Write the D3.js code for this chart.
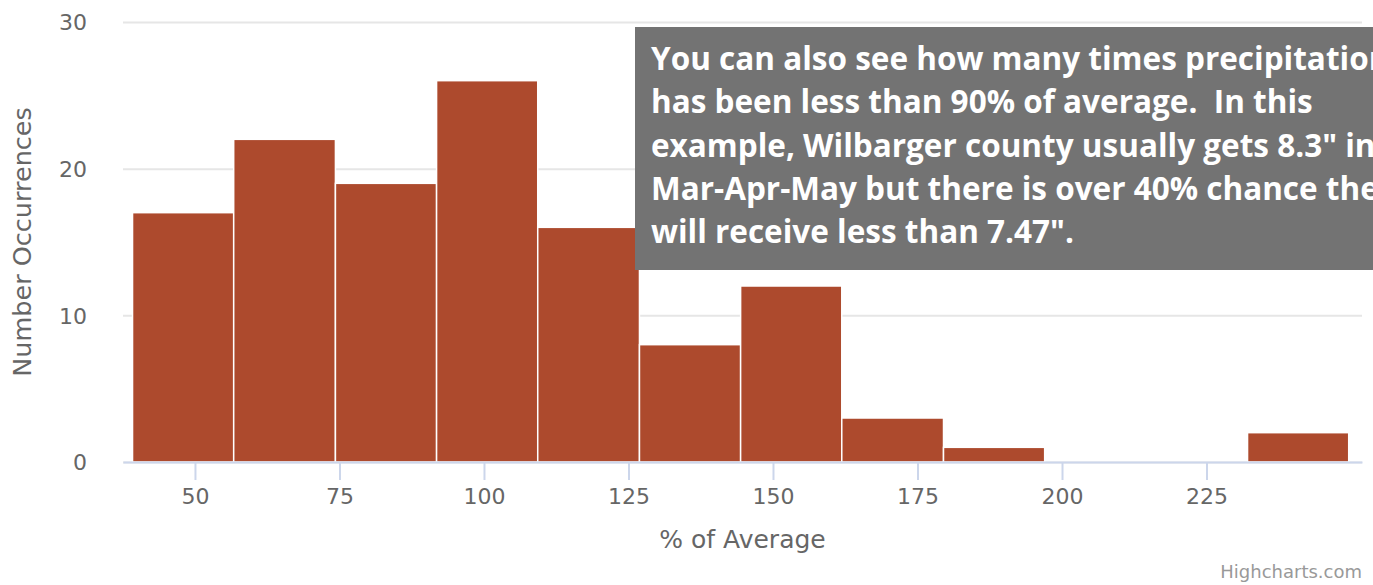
<!DOCTYPE html>
<html>
<head>
<meta charset="utf-8">
<script src="https://cdn.jsdelivr.net/npm/d3@7"></script>
<style>
  html, body { margin: 0; padding: 0; background: #fff; overflow: hidden; }
  svg { display: block; }
</style>
</head>
<body>
<svg id="chart" width="1373" height="585"></svg>
<script>
// ---- data ----
const binEdges = [39.2, 56.7, 74.3, 91.8, 109.3, 126.9, 144.4, 161.9, 179.5, 197.0, 214.5, 232.1, 249.6];
const counts   = [17, 22, 19, 26, 16, 8, 12, 3, 1, 0, 0, 2];
const xTicks   = [50, 75, 100, 125, 150, 175, 200, 225];
const yTicks   = [0, 10, 20, 30];
const xTitle   = "% of Average";
const yTitle   = "Number Occurrences";
const noteLines = [
  "You can also see how many times precipitation",
  "has been less than 90% of average.  In this",
  "example, Wilbarger county usually gets 8.3\" in",
  "Mar-Apr-May but there is over 40% chance they",
  "will receive less than 7.47\"."
];
const credit = "Highcharts.com";

// ---- layout ----
const svg = d3.select("#chart");
const plotLeft = 123, plotRight = 1362, plotTop = 22, plotBottom = 462;

const x = d3.scaleLinear().domain([37.55, 251.9]).range([plotLeft, plotRight]);
const y = d3.scaleLinear().domain([0, 30]).range([plotBottom, plotTop]);

const labelFont = "DejaVu Sans, Verdana, sans-serif";

// gridlines
const grid = svg.append("g")
  .attr("transform", `translate(${plotLeft},0)`)
  .call(d3.axisLeft(y).tickValues(yTicks).tickSize(-(plotRight - plotLeft)).tickFormat(""));
grid.select(".domain").remove();
grid.selectAll("line").attr("stroke", "#e6e6e6").attr("stroke-width", 2);

// y labels
const yLab = svg.append("g")
  .attr("transform", `translate(${plotLeft},0)`)
  .call(d3.axisLeft(y).tickValues(yTicks).tickSize(0).tickPadding(36));
yLab.select(".domain").remove();
yLab.selectAll("text")
  .attr("fill", "#666").attr("font-family", labelFont).attr("font-size", 22)
  .attr("dy", "0.36em");

// bars
const bins = counts.map((c, i) => ({ x0: binEdges[i], x1: binEdges[i + 1], c }));
svg.append("g").selectAll("rect")
  .data(bins.filter(d => d.c > 0))
  .join("rect")
  .attr("x", d => x(d.x0))
  .attr("width", d => x(d.x1) - x(d.x0))
  .attr("y", d => y(d.c))
  .attr("height", d => y(0) - y(d.c))
  .attr("fill", "#ad4a2d")
  .attr("stroke", "#ffffff")
  .attr("stroke-width", 1.5);

// x axis
const xAx = svg.append("g")
  .attr("transform", `translate(0,${plotBottom})`)
  .call(d3.axisBottom(x).tickValues(xTicks).tickSizeInner(18).tickSizeOuter(0).tickPadding(8));
xAx.select(".domain").attr("stroke", "#ccd6eb").attr("stroke-width", 2);
xAx.selectAll(".tick line").attr("stroke", "#ccd6eb").attr("stroke-width", 2);
xAx.selectAll("text")
  .attr("fill", "#666").attr("font-family", labelFont).attr("font-size", 22);

// axis titles
svg.append("text")
  .attr("x", (plotLeft + plotRight) / 2).attr("y", 548)
  .attr("text-anchor", "middle")
  .attr("fill", "#666").attr("font-family", labelFont).attr("font-size", 25)
  .text(xTitle);

svg.append("text")
  .attr("transform", `translate(31,${(plotTop + plotBottom) / 2}) rotate(-90)`)
  .attr("text-anchor", "middle")
  .attr("fill", "#666").attr("font-family", labelFont).attr("font-size", 25.5)
  .text(yTitle);

// credit
svg.append("text")
  .attr("x", 1362).attr("y", 578)
  .attr("text-anchor", "end")
  .attr("fill", "#999").attr("font-family", labelFont).attr("font-size", 18)
  .text(credit);

// annotation box
svg.append("rect")
  .attr("x", 635).attr("y", 27)
  .attr("width", 800).attr("height", 243)
  .attr("fill", "#737373");

svg.append("g").selectAll("text")
  .data(noteLines)
  .join("text")
  .attr("x", 651)
  .attr("y", (d, i) => 70 + i * 43.3)
  .attr("fill", "#ffffff")
  .attr("font-family", "Open Sans, sans-serif")
  .attr("font-weight", 700)
  .attr("font-size", 31.5)
  .style("white-space", "pre")
  .text(d => d);
</script>
</body>
</html>
